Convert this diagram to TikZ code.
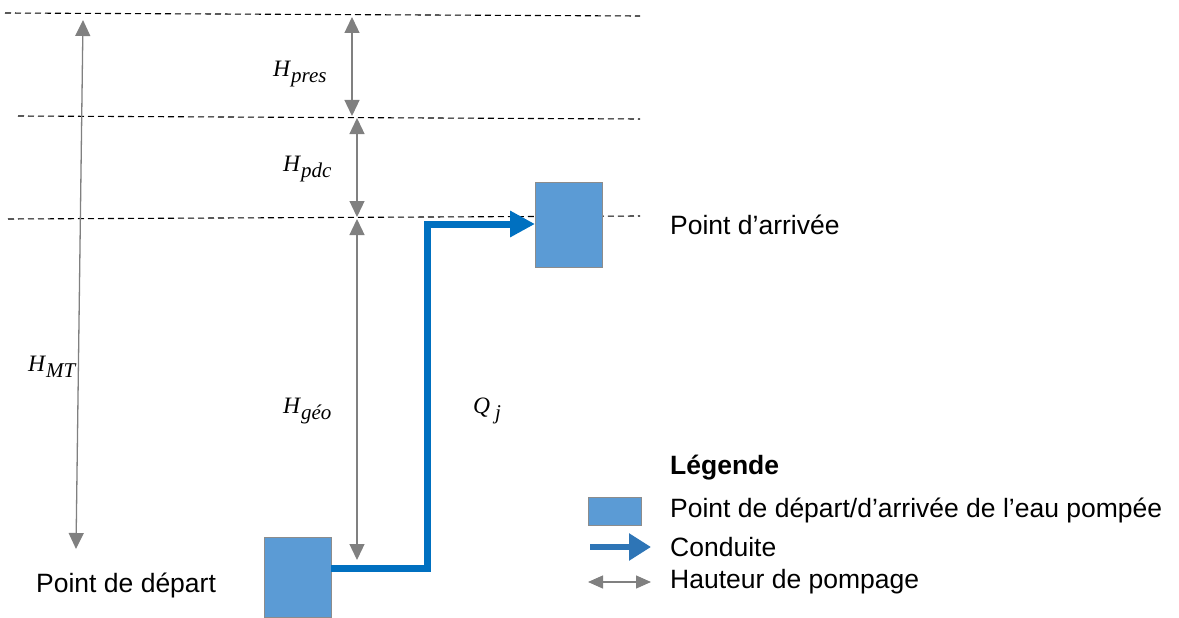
\documentclass[tikz,border=0pt]{standalone}
\usepackage{fontspec}
\setmainfont{Liberation Sans}
\newfontfamily\labserif{Liberation Serif}
\usetikzlibrary{arrows.meta}
\definecolor{boxblue}{HTML}{5B9BD5}
\definecolor{pipeblue}{HTML}{0070C0}
\definecolor{legblue}{HTML}{2E75B6}
\definecolor{hgray}{HTML}{808080}
\newcommand\hlab[2]{{\labserif\itshape\fontsize{23.5}{28}\selectfont #1\kern1pt\raisebox{-6pt}{\fontsize{21}{24}\selectfont #2}}}
\begin{document}
\begin{tikzpicture}[x=1pt,y=-1pt,
  level/.style={draw=black,dash pattern=on 6pt off 4pt,line width=1.1pt},
  height/.style={draw=hgray,line width=1.3pt,{Triangle[length=16pt,width=15pt]}-{Triangle[length=16pt,width=15pt]}},
  pipe/.style={draw=pipeblue,line width=7pt,-{Triangle[length=25pt,width=25pt]}},
  tank/.style={draw=gray!90,line width=0.8pt,fill=boxblue,inner sep=0pt},
  lbl/.style={inner sep=0pt,anchor=base west},
  txt/.style={font=\fontsize{26.5}{30}\selectfont,inner sep=0pt,anchor=west}]
\useasboundingbox (0,0) rectangle (1179,618);
% levels
\coordinate (l1a) at (5,13);   \coordinate (l1b) at (640,16);
\coordinate (l2a) at (18,116); \coordinate (l2b) at (640,119);
\coordinate (l3a) at (8,219);  \coordinate (l3b) at (640,216);
\draw[level] (l1a) -- (l1b);
\draw[level] (l2a) -- (l2b);
\draw[level] (l3a) -- (l3b);
% tanks
\node[tank,minimum width=67pt,minimum height=85pt] (arr) at (568.5,224.5) {};
\node[tank,minimum width=67pt,minimum height=80pt] (dep) at (297.5,577) {};
% heights
\coordinate (mt1) at (83,20);  \coordinate (mt2) at (76,549);
\coordinate (pr1) at (352,17); \coordinate (pr2) at (352,116);
\coordinate (pd1) at (357,118); \coordinate (pd2) at (357,217);
\coordinate (ge1) at (357,219); \coordinate (ge2) at (357,560);
\draw[height] (mt1) -- (mt2);
\draw[height] (pr1) -- (pr2);
\draw[height] (pd1) -- (pd2);
\draw[height] (ge1) -- (ge2);
% pipe
\coordinate (p0) at (331,568);
\coordinate (p1) at (427,568);
\coordinate (p2) at (427,224);
\coordinate (p3) at (535,224);
\draw[pipe,line join=miter] (p0) -- (p1) -- (p2) -- (p3);
% labels
\node[lbl] (hmt) at (28,371) {\hlab{H}{MT}};
\node[lbl] (hpres) at (273,77) {\hlab{H}{pres}};
\node[lbl] (hpdc) at (283,171) {\hlab{H}{pdc}};
\node[lbl] (hgeo) at (283,413) {\hlab{H}{géo}};
\node[lbl] (qj) at (473,413) {\hlab{Q}{\kern4pt j}};
\node[txt] (tarr) at (670,225) {Point d’arrivée};
\node[txt] (tdep) at (36,585) {Point de départ};
% legend
\node[txt] (leg) at (670,468) {\bfseries Légende};
\node[tank,minimum width=53pt,minimum height=28pt] (legbox) at (614.5,511) {};
\node[txt] (leg1) at (670,510) {Point de départ/d’arrivée de l’eau pompée};
\coordinate (la1) at (590,547); \coordinate (la2) at (651,547);
\draw[draw=legblue,line width=6pt,-{Triangle[length=22pt,width=26pt]}] (la1) -- (la2);
\node[txt] (leg2) at (670,547) {Conduite};
\coordinate (lh1) at (588,582); \coordinate (lh2) at (651,582);
\draw[height,{Triangle[length=15pt,width=13pt]}-{Triangle[length=15pt,width=13pt]}] (lh1) -- (lh2);
\node[txt] (leg3) at (670,582) {Hauteur de pompage};
\end{tikzpicture}
\end{document}
